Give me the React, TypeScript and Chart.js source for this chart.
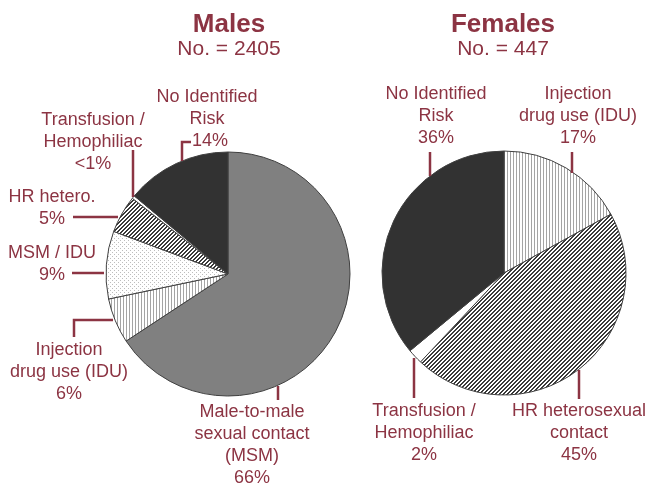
import React, { useEffect, useRef } from "react";
import { Chart, registerables } from "chart.js";

Chart.register(...registerables);

// ---------- DATA ----------
const MALE_TITLE = "Males";
const MALE_SUBTITLE = "No. = 2405";
const MALE_CATEGORIES = [
  "Male-to-male sexual contact (MSM)",
  "Injection drug use (IDU)",
  "MSM / IDU",
  "HR hetero.",
  "Transfusion / Hemophiliac",
  "No Identified Risk",
];
const MALE_VALUES = [66, 6, 9, 5, 0.4, 14];
const MALE_PCT_LABELS = ["66%", "6%", "9%", "5%", "<1%", "14%"];
const MALE_LABEL_LINES = [
  ["Male-to-male", "sexual contact", "(MSM)"],
  ["Injection", "drug use (IDU)"],
  ["MSM / IDU"],
  ["HR hetero."],
  ["Transfusion /", "Hemophiliac"],
  ["No Identified", "Risk"],
];

const FEMALE_TITLE = "Females";
const FEMALE_SUBTITLE = "No. = 447";
const FEMALE_CATEGORIES = [
  "Injection drug use (IDU)",
  "HR heterosexual contact",
  "Transfusion / Hemophiliac",
  "No Identified Risk",
];
const FEMALE_VALUES = [17, 45, 2, 36];
const FEMALE_PCT_LABELS = ["17%", "45%", "2%", "36%"];
const FEMALE_LABEL_LINES = [
  ["Injection", "drug use (IDU)"],
  ["HR heterosexual", "contact"],
  ["Transfusion /", "Hemophiliac"],
  ["No Identified", "Risk"],
];

// ---------- STYLE / LAYOUT ----------
const W = 650;
const H = 487;
const R = 122;
const TEXT_COLOR = "#8c3443";
const FONT = '"Liberation Sans", Arial, Helvetica, sans-serif';
const LINE_H = 22;

const MALE_CENTER = { x: 228, y: 274 };
const FEMALE_CENTER = { x: 504, y: 273 };

type Anno = { x: number; y: number; leader: number[][]; pctX?: number };

const MALE_ANNO: Anno[] = [
  { x: 252, y: 417, leader: [[278, 386], [278, 400]] },
  { x: 69, y: 355, leader: [[113, 320], [74, 320], [74, 337]] },
  { x: 52, y: 258, leader: [[72, 273], [104, 273]] },
  { x: 52, y: 202, leader: [[73, 217], [118, 217]] },
  { x: 93, y: 125, leader: [[133, 150], [133, 197]] },
  { x: 207, y: 102, leader: [[191, 142], [182, 142], [182, 161]], pctX: 210 },
];

const FEMALE_ANNO: Anno[] = [
  { x: 578, y: 99, leader: [[572, 152], [572, 173]] },
  { x: 579, y: 416, leader: [[579, 370], [579, 399]] },
  { x: 424, y: 416, leader: [[414, 358], [414, 398]] },
  { x: 436, y: 99, leader: [[430, 152], [430, 176]] },
];

function makePattern(kind: string): CanvasPattern | string {
  const c = document.createElement("canvas");
  const ctx = c.getContext("2d");
  if (!ctx) return "#ccc";
  if (kind === "vstripe") {
    c.width = 3;
    c.height = 1;
    ctx.fillStyle = "#ffffff";
    ctx.fillRect(0, 0, 3, 1);
    ctx.fillStyle = "#a4a4a4";
    ctx.fillRect(0, 0, 1, 1);
  } else if (kind === "dots") {
    c.width = 4;
    c.height = 4;
    ctx.fillStyle = "#ffffff";
    ctx.fillRect(0, 0, 4, 4);
    ctx.fillStyle = "#bdbdbd";
    ctx.fillRect(0, 0, 1, 1);
    ctx.fillRect(2, 2, 1, 1);
  } else {
    c.width = 4;
    c.height = 4;
    ctx.fillStyle = "#ffffff";
    ctx.fillRect(0, 0, 4, 4);
    ctx.fillStyle = "#3a3a3a";
    for (let y = 0; y < 4; y++)
      for (let x = 0; x < 4; x++) if ((x + y) % 4 < 2) ctx.fillRect(x, y, 1, 1);
  }
  const p = ctx.createPattern(c, "repeat");
  return p || "#ccc";
}

function annotationPlugin(
  id: string,
  title: string,
  subtitle: string,
  cx: number,
  lines: string[][],
  pcts: string[],
  annos: Anno[]
) {
  return {
    id,
    afterDraw(chart: any) {
      const ctx = chart.ctx as CanvasRenderingContext2D;
      ctx.save();
      ctx.fillStyle = TEXT_COLOR;
      ctx.textAlign = "center";
      ctx.textBaseline = "alphabetic";
      ctx.font = `bold 26px ${FONT}`;
      ctx.fillText(title, cx + 1, 32);
      ctx.font = `21px ${FONT}`;
      ctx.fillText(subtitle, cx + 1, 55);

      ctx.font = `18px ${FONT}`;
      ctx.strokeStyle = TEXT_COLOR;
      ctx.lineWidth = 2.5;
      ctx.lineCap = "butt";
      ctx.lineJoin = "miter";
      annos.forEach((a, i) => {
        const ls = lines[i];
        ls.forEach((t, k) => ctx.fillText(t, a.x, a.y + k * LINE_H));
        ctx.fillText(pcts[i], a.pctX ?? a.x, a.y + ls.length * LINE_H);
        ctx.beginPath();
        a.leader.forEach((p, k) => (k === 0 ? ctx.moveTo(p[0], p[1]) : ctx.lineTo(p[0], p[1])));
        ctx.stroke();
      });
      ctx.restore();
    },
  };
}

function padFor(c: { x: number; y: number }) {
  return {
    left: c.x - R,
    top: c.y - R,
    right: W - (c.x + R),
    bottom: H - (c.y + R),
  };
}

export default function App() {
  const maleRef = useRef<HTMLCanvasElement | null>(null);
  const femaleRef = useRef<HTMLCanvasElement | null>(null);

  useEffect(() => {
    const vstripe = makePattern("vstripe");
    const dots = makePattern("dots");
    const diag = makePattern("diag");
    const grey = "#808080";
    const dark = "#323232";
    const white = "#ffffff";

    const male = new Chart(maleRef.current as HTMLCanvasElement, {
      type: "pie",
      data: {
        labels: MALE_CATEGORIES,
        datasets: [
          {
            data: MALE_VALUES,
            backgroundColor: [grey, vstripe, dots, diag, white, dark] as any,
            borderColor: "#404040",
            borderWidth: 1,
          },
        ],
      },
      options: {
        responsive: false,
        animation: false,
        radius: R,
        layout: { padding: padFor(MALE_CENTER) },
        plugins: { legend: { display: false }, tooltip: { enabled: false }, title: { display: false } },
      } as any,
      plugins: [
        annotationPlugin("maleAnno", MALE_TITLE, MALE_SUBTITLE, MALE_CENTER.x, MALE_LABEL_LINES, MALE_PCT_LABELS, MALE_ANNO),
      ],
    });

    const female = new Chart(femaleRef.current as HTMLCanvasElement, {
      type: "pie",
      data: {
        labels: FEMALE_CATEGORIES,
        datasets: [
          {
            data: FEMALE_VALUES,
            backgroundColor: [vstripe, diag, white, dark] as any,
            borderColor: "#404040",
            borderWidth: 1,
          },
        ],
      },
      options: {
        responsive: false,
        animation: false,
        radius: R,
        layout: { padding: padFor(FEMALE_CENTER) },
        plugins: { legend: { display: false }, tooltip: { enabled: false }, title: { display: false } },
      } as any,
      plugins: [
        annotationPlugin("femaleAnno", FEMALE_TITLE, FEMALE_SUBTITLE, FEMALE_CENTER.x - 2, FEMALE_LABEL_LINES, FEMALE_PCT_LABELS, FEMALE_ANNO),
      ],
    });

    return () => {
      male.destroy();
      female.destroy();
    };
  }, []);

  const canvasStyle: React.CSSProperties = { position: "absolute", left: 0, top: 0 };
  return (
    <div style={{ position: "fixed", left: 0, top: 0, width: W, height: H, background: "#ffffff" }}>
      <canvas ref={maleRef} width={W} height={H} style={canvasStyle} />
      <canvas ref={femaleRef} width={W} height={H} style={canvasStyle} />
    </div>
  );
}
